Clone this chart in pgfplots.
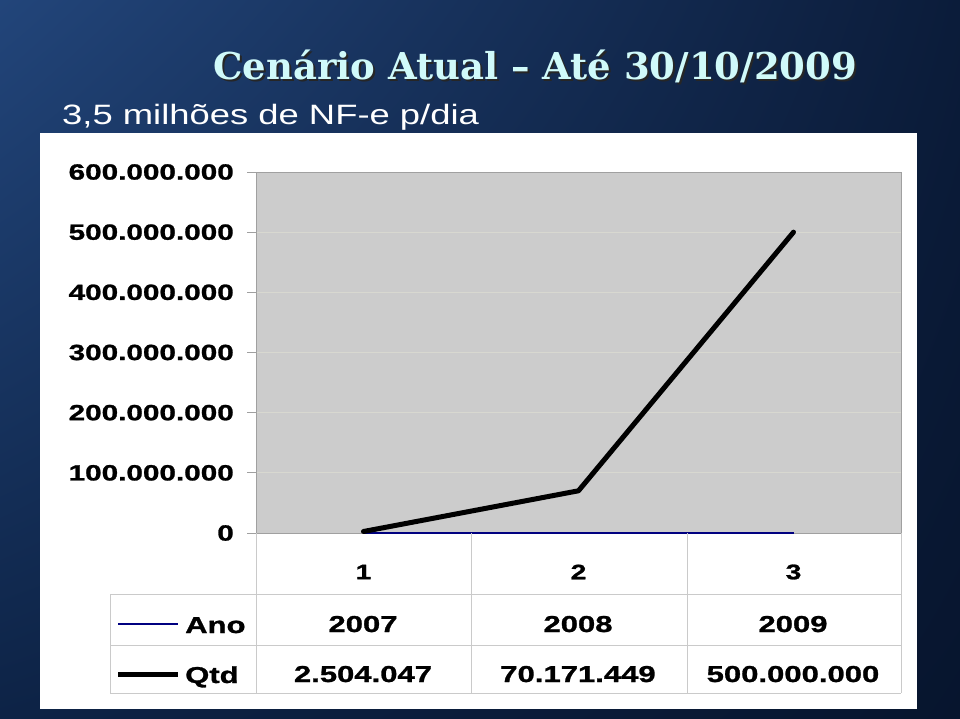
\documentclass[border=0pt]{standalone}
\usepackage{pgfplots}
\pgfplotsset{compat=1.18}
\usetikzlibrary{shadings}
\usepackage{fontspec}
\setmainfont{Liberation Sans}
\newfontfamily\chartfont[FakeStretch=1.35, BoldFeatures={FakeBold=1.2}]{Liberation Sans}
\newfontfamily\subfont[FakeStretch=1.3]{Liberation Sans}
\newfontfamily\titlefont{DejaVu Serif}
\definecolor{bgA}{HTML}{22457A}
\definecolor{bgB}{HTML}{0B1C3A}
\definecolor{bgC}{HTML}{0D2346}
\definecolor{bgD}{HTML}{07152E}
\definecolor{titlecyan}{HTML}{D0FAFA}
\definecolor{plotgray}{HTML}{CCCCCC}
\definecolor{axisgray}{HTML}{A0A0A0}
\definecolor{gridc}{HTML}{D8D8D0}
\definecolor{tablegray}{HTML}{CACACA}
\definecolor{anonavy}{HTML}{000080}
\newcommand{\titletext}{Cenário Atual – Até 30/10/2009}
\begin{document}
\begin{tikzpicture}[x=1pt,y=1pt]
\useasboundingbox (0,0) rectangle (960,718);
\shade[upper left=bgA, upper right=bgB, lower left=bgC, lower right=bgD] (0,0) rectangle (960,718);
\fill[white] (40,9) rectangle (917,585);
% title with shadow (single text node)
\node[anchor=base west, inner sep=0pt, text=titlecyan, font=\titlefont\bfseries\fontsize{37}{42}\selectfont] at (213,638) {\rlap{\kern2pt\raisebox{-2pt}{\color{black!85}\titletext}}\titletext};
% subtitle
\node[anchor=base west, inner sep=0pt, text=white, font=\subfont\fontsize{28}{32}\selectfont] at (62,593) {3,5 milhões de NF-e p/dia};
\begin{axis}[
  at={(256pt,185pt)}, anchor=south west, scale only axis,
  width=645pt, height=361pt,
  xmin=0.5, xmax=3.5, ymin=0, ymax=600000000,
  scaled y ticks=false,
  xtick={1,2,3}, xticklabels={1,2,3},
  ytick={0,100000000,200000000,300000000,400000000,500000000,600000000},
  yticklabels={0,100.000.000,200.000.000,300.000.000,400.000.000,500.000.000,600.000.000},
  ytick pos=left,
  axis background/.style={fill=plotgray},
  axis line style={draw=axisgray, line width=1pt},
  ymajorgrids, grid style={draw=gridc, line width=1pt},
  tick align=outside, major tick length=9pt,
  ytick style={draw=axisgray, line width=1pt},
  xtick style={draw=none},
  xticklabel style={anchor=center, yshift=-30pt, font=\chartfont\bfseries\fontsize{21}{24}\selectfont},
  yticklabel style={anchor=east, inner sep=0pt, xshift=-13pt, font=\chartfont\bfseries\fontsize{22}{26}\selectfont},
  clip=false,
]
\addplot[anonavy, line width=1.5pt] coordinates {(1,2007) (2,2008) (3,2009)};
\addplot[black, line width=5pt, line cap=round, line join=round] coordinates {(1,2504047) (2,70171449) (3,500000000)};
\end{axis}
% data table grid
\begin{scope}[draw=tablegray, line width=1pt]
\draw (110,124) -- (901,124);
\draw (110,73) -- (901,73);
\draw (110,25) -- (901,25);
\draw (110,124) -- (110,25);
\draw (256,185) -- (256,25);
\draw (471,185) -- (471,25);
\draw (687,185) -- (687,25);
\draw (901,185) -- (901,25);
\end{scope}
% legend keys
\draw[anonavy, line width=1.5pt] (118,94) -- (178,94);
\draw[black, line width=5pt] (118,44) -- (178,44);
\begin{scope}[every node/.style={inner sep=0pt, font=\chartfont\bfseries\fontsize{23}{26}\selectfont}]
\node[anchor=base west] at (185,85) {Ano};
\node[anchor=base west] at (185,35) {Qtd};
\node[anchor=base] at (363,86) {2007};
\node[anchor=base] at (578,86) {2008};
\node[anchor=base] at (793,86) {2009};
\node[anchor=base] at (363,36) {2.504.047};
\node[anchor=base] at (578,36) {70.171.449};
\node[anchor=base] at (793,36) {500.000.000};
\end{scope}
\end{tikzpicture}
\end{document}
